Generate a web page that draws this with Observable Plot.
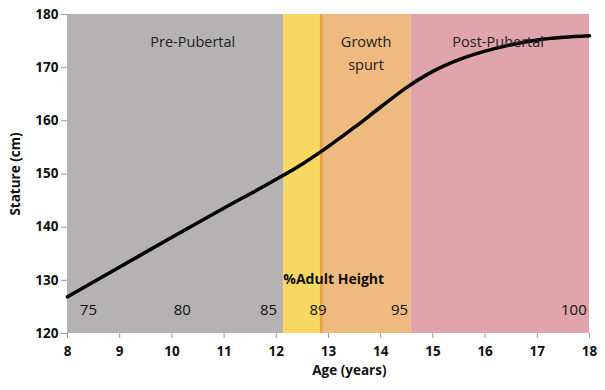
<!DOCTYPE html>
<html>
<head>
<meta charset="utf-8">
<script src="https://cdn.jsdelivr.net/npm/d3@7"></script>
<script src="https://cdn.jsdelivr.net/npm/@observablehq/plot@0.6"></script>
<style>
  html, body { margin: 0; padding: 0; background: #fff; }
  #chart svg { font-family: "Open Sans", sans-serif; }
  #chart g[aria-label="x-axis tick label"] text,
  #chart g[aria-label="y-axis tick label"] text { font-weight: bold; }
</style>
</head>
<body>
<div id="chart"></div>
<script>
// Growth curve (age in years, stature in cm)
const ages     = [8, 9, 10, 11, 12, 12.5, 13, 13.5, 14, 14.5, 15, 15.5, 16, 16.5, 17, 17.5, 18];
const stature  = [126.9, 132.5, 138.1, 143.6, 149.0, 151.9, 155.2, 158.8, 162.6, 166.3, 169.3, 171.5, 173.1, 174.3, 175.2, 175.7, 176.0];

// Phase bands
const phaseNames = ["Pre-Pubertal", "Peak", "Growth spurt", "Post-Pubertal"];
const phaseStart = [8, 12.14, 12.86, 14.58];
const phaseEnd   = [12.14, 12.86, 14.58, 18];
const phaseColor = ["#b4b2b2", "#f8d863", "#eeba80", "#e0a4ad"];

// Phase labels
const phaseLabels = ["Pre-Pubertal", "Growth\nspurt", "Post-Pubertal"];
const phaseLabelX = [10.4, 13.72, 16.25];

// % adult height annotations
const pctLabels = ["75", "80", "85", "89", "95", "100"];
const pctX      = [8.4, 10.2, 11.85, 12.8, 14.36, 17.7];

const xTicks = [8, 9, 10, 11, 12, 13, 14, 15, 16, 17, 18];
const yTicks = [120, 130, 140, 150, 160, 170, 180];

const curve = ages.map((a, i) => ({age: a, h: stature[i]}));
const bands = phaseNames.map((n, i) => ({name: n, x1: phaseStart[i], x2: phaseEnd[i], c: phaseColor[i]}));
const plabels = phaseLabels.map((t, i) => ({t, x: phaseLabelX[i]}));
const pcts = pctLabels.map((t, i) => ({t, x: pctX[i]}));

const chart = Plot.plot({
  width: 605,
  height: 390,
  marginLeft: 67,
  marginRight: 16,
  marginTop: 14,
  marginBottom: 57,
  x: {domain: [8, 18]},
  y: {domain: [120, 180]},
  marks: [
    Plot.rectY(bands, {x1: "x1", x2: "x2", y1: 120, y2: 180, fill: "c"}),
    Plot.ruleX([phaseStart[2]], {stroke: "#e6a43c", strokeWidth: 2.5, y1: 120, y2: 180}),
    Plot.line(curve, {x: "age", y: "h", stroke: "#000", strokeWidth: 3.5, curve: "monotone-x"}),
    Plot.text(plabels, {x: "x", y: 180, text: "t", dy: 17, lineAnchor: "top", fontSize: 14.5, fill: "#222", lineHeight: 1.55}),
    Plot.text(pcts, {x: "x", y: 124.3, text: "t", fontSize: 15, fill: "#111"}),
    Plot.text(["%Adult Height"], {x: 13.1, y: 130.1, text: d => d, fontSize: 14, fontWeight: "bold", fill: "#111"}),
    Plot.axisX({ticks: xTicks, tickSize: 5, tickPadding: 8, stroke: "#999", fill: "#111", fontSize: 13.5, label: null}),
    Plot.axisY({ticks: yTicks, tickSize: 6, tickPadding: 3, stroke: "#999", fill: "#111", fontSize: 13.5, label: null}),
    Plot.text(["Age (years)"], {x: 13.4, y: 120, dy: 37, text: d => d, fontSize: 13.5, fontWeight: "bold", fill: "#111"}),
    Plot.text(["Stature (cm)"], {x: 8, y: 150, dx: -52, rotate: -90, text: d => d, fontSize: 13.5, fontWeight: "bold", fill: "#111"})
  ]
});
document.getElementById("chart").appendChild(chart);
</script>
</body>
</html>
